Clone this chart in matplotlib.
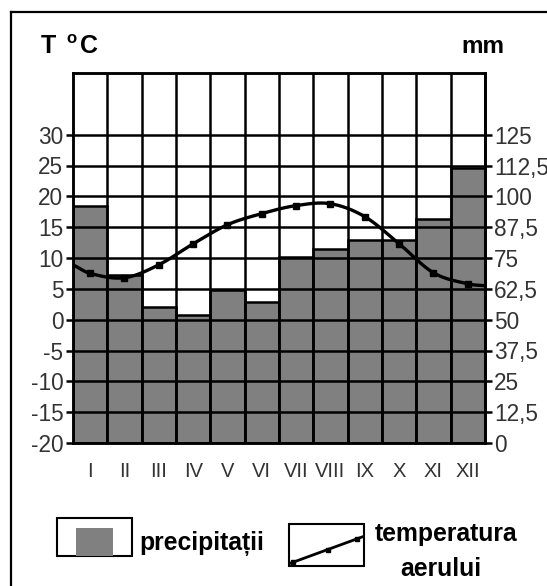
import numpy as np
import matplotlib
matplotlib.use("Agg")
import matplotlib.pyplot as plt
from matplotlib.patches import Rectangle
from matplotlib.lines import Line2D

# ---- data ----
months = ["I", "II", "III", "IV", "V", "VI", "VII", "VIII", "IX", "X", "XI", "XII"]
precip_mm = [96, 68, 55, 52, 62, 57, 75.5, 78.5, 82.5, 82.5, 91, 111.5]
temp_c = [7.5, 6.8, 8.9, 12.3, 15.4, 17.2, 18.5, 18.8, 16.7, 12.3, 7.6, 5.8]
temp_left_edge = 8.9
temp_right_edge = 5.5
temp_ticks = [-20, -15, -10, -5, 0, 5, 10, 15, 20, 25, 30]
mm_ticks = [0, 12.5, 25, 37.5, 50, 62.5, 75, 87.5, 100, 112.5, 125]
mm_tick_labels = ["0", "12,5", "25", "37,5", "50", "62,5", "75", "87,5", "100", "112,5", "125"]

FONT = ["Liberation Sans", "DejaVu Sans"]
TICKC = "#333333"

W, H = 547, 586
fig = plt.figure(figsize=(W / 100, H / 100), dpi=100)

def fx(px):
    return px / W

def fy(py):
    return 1 - py / H

left, right, top, bottom = 73, 485, 73, 443
ax2 = fig.add_axes([fx(left), fy(bottom), fx(right) - fx(left), fy(top) - fy(bottom)])
ax = ax2.twinx()  # temperature axis on top
ax.set_zorder(ax2.get_zorder() + 1)
ax.patch.set_visible(False)

n = len(months)
xs = np.arange(n)

# bars (mm)
ax2.bar(xs, precip_mm, width=1.0, color="#808080", edgecolor="black", linewidth=1.8, zorder=1)
ax2.set_ylim(0, 150)
ax2.set_xlim(-0.5, n - 0.5)

# temperature axis
ax.set_ylim(-20, 40)
ax.set_xlim(-0.5, n - 0.5)

# grid lines
for t in temp_ticks[1:]:
    ax.axhline(t, color="black", lw=1.8, zorder=2)
for b in np.arange(-0.5, n, 1.0)[1:]:
    ax.axvline(b, color="black", lw=1.8, zorder=2)

# smooth temperature curve (cubic Hermite through read points)
px = np.concatenate([[-0.5], xs, [n - 0.5]]).astype(float)
py = np.concatenate([[temp_left_edge], temp_c, [temp_right_edge]]).astype(float)
m = np.zeros_like(py)
m[1:-1] = (py[2:] - py[:-2]) / (px[2:] - px[:-2])
m[0] = (py[1] - py[0]) / (px[1] - px[0])
m[-1] = (py[-1] - py[-2]) / (px[-1] - px[-2])
cx, cy = [], []
for i in range(len(px) - 1):
    h = px[i + 1] - px[i]
    t = np.linspace(0, 1, 30)
    h00 = 2 * t**3 - 3 * t**2 + 1
    h10 = t**3 - 2 * t**2 + t
    h01 = -2 * t**3 + 3 * t**2
    h11 = t**3 - t**2
    cx.append(px[i] + t * h)
    cy.append(h00 * py[i] + h10 * h * m[i] + h01 * py[i + 1] + h11 * h * m[i + 1])
cx = np.concatenate(cx)
cy = np.concatenate(cy)
ax.plot(cx, cy, color="black", lw=2.4, zorder=4, solid_capstyle="butt", clip_on=False)
ax.plot(xs, temp_c, ls="none", marker="s", ms=4.5, color="black", zorder=5)

# spines
for a in (ax, ax2):
    for s in a.spines.values():
        s.set_linewidth(1.8)
        s.set_color("black")

# ticks
ax2.set_yticks([])
ax.yaxis.set_ticks_position("left")
ax.yaxis.set_label_position("left")
ax.set_yticks(temp_ticks)
ax.set_yticklabels([str(t) for t in temp_ticks], family=FONT, fontsize=16.3, color=TICKC)
ax.tick_params(axis="y", direction="out", length=5, width=1.8, pad=2)

ax_r = ax.secondary_yaxis("right", functions=(lambda t: (t + 20) * 2.5, lambda v: v / 2.5 - 20))
ax_r.set_yticks(mm_ticks)
ax_r.set_yticklabels(mm_tick_labels, family=FONT, fontsize=16.3, color=TICKC)
ax_r.tick_params(axis="y", direction="out", length=5, width=1.8, pad=1.5)
ax_r.spines["right"].set_linewidth(1.8)

ax.set_xticks([])
ax2.set_xticks(xs)
ax2.set_xticklabels(months, family=FONT, fontsize=14.5, color=TICKC)
ax2.tick_params(axis="x", length=0, pad=14)

# axis titles
fig.text(fx(41), fy(53), "T", family=FONT, fontweight="bold", fontsize=18, va="baseline", ha="left")
fig.text(fx(66), fy(43), "o", family=FONT, fontweight="bold", fontsize=12, va="baseline", ha="left")
fig.text(fx(80), fy(53), "C", family=FONT, fontweight="bold", fontsize=18, va="baseline", ha="left")
fig.text(fx(461), fy(53), "mm", family=FONT, fontweight="bold", fontsize=17.5, va="baseline", ha="left")

# outer frame (left and top)
fig.add_artist(Line2D([fx(11), fx(11)], [fy(12), 0], color="black", lw=1.6, transform=fig.transFigure))
fig.add_artist(Line2D([fx(11), 1], [fy(12), fy(12)], color="black", lw=1.6, transform=fig.transFigure))

# legend: precipitation
fig.add_artist(Rectangle((fx(57), fy(556)), fx(132) - fx(57), fy(518) - fy(556), fill=False,
                         edgecolor="black", lw=1.5, transform=fig.transFigure))
fig.add_artist(Rectangle((fx(76), fy(556)), fx(113) - fx(76), fy(528) - fy(556),
                         facecolor="#808080", edgecolor="none", transform=fig.transFigure))
fig.text(fx(139), fy(550), "precipitații", family=FONT, fontweight="bold", fontsize=17.8,
         va="baseline", ha="left")

# legend: temperature
fig.add_artist(Rectangle((fx(289), fy(566)), fx(364) - fx(289), fy(524) - fy(566), fill=False,
                         edgecolor="black", lw=1.5, transform=fig.transFigure))
fig.add_artist(Line2D([fx(291), fx(362)], [fy(563), fy(537)], color="black", lw=2.0,
                      transform=fig.transFigure))
fig.add_artist(Line2D([fx(293), fx(328), fx(357)], [fy(562), fy(550), fy(539)], ls="none",
                      marker="s", ms=3.5, color="black", transform=fig.transFigure))
fig.text(fx(446), fy(541), "temperatura", family=FONT, fontweight="bold", fontsize=17.8,
         va="baseline", ha="center")
fig.text(fx(441), fy(576), "aerului", family=FONT, fontweight="bold", fontsize=17.8,
         va="baseline", ha="center")

fig.savefig("out.png", dpi=100, facecolor="white")
